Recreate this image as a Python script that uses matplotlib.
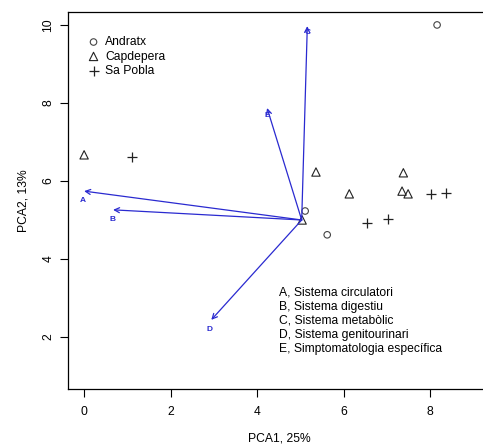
import numpy as np
import matplotlib.pyplot as plt

plt.rcParams['font.family'] = ['Liberation Sans', 'DejaVu Sans']

# punts per municipi (PCA1, PCA2)
andratx_x = [8.16, 5.11, 5.62]
andratx_y = [10.0, 5.23, 4.62]
capdepera_x = [0.0, 5.36, 6.13, 7.38, 7.35, 7.49, 5.04]
capdepera_y = [6.67, 6.23, 5.67, 6.21, 5.74, 5.67, 5.0]
sapobla_x = [1.11, 6.54, 7.03, 8.02, 8.37]
sapobla_y = [6.62, 4.92, 5.03, 5.67, 5.69]

# vectors de les variables
origen = (5.03, 5.0)
lletres = ['A', 'B', 'C', 'D', 'E']
fletxa_x = [0.0, 0.67, 5.16, 2.94, 4.23]
fletxa_y = [5.74, 5.26, 9.97, 2.44, 7.87]
etiqueta_x = [-0.02, 0.65, 5.16, 2.91, 4.23]
etiqueta_y = [5.51, 5.0, 9.8, 2.18, 7.69]

noms = ['A, Sistema circulatori', 'B, Sistema digestiu', 'C, Sistema metabòlic',
        'D, Sistema genitourinari', 'E, Simptomatologia específica']

fig = plt.figure(figsize=(4.83, 4.47), dpi=100)
ax = fig.add_axes([0.141, 0.130, 0.875, 0.843])

ax.scatter(andratx_x, andratx_y, marker='o', s=22, facecolors='none',
           edgecolors='#444444', linewidths=0.8, label='Andratx')
ax.scatter(capdepera_x, capdepera_y, marker='^', s=36, facecolors='none',
           edgecolors='#222222', linewidths=0.8, label='Capdepera')
ax.scatter(sapobla_x, sapobla_y, marker='+', s=50, color='#222222',
           linewidths=0.9, label='Sa Pobla')

for i in range(len(lletres)):
    ax.annotate('', xy=(fletxa_x[i], fletxa_y[i]), xytext=origen,
                arrowprops=dict(arrowstyle='->', color='#2a2ad0', lw=0.9,
                                shrinkA=0, shrinkB=0, mutation_scale=9))
    ax.text(etiqueta_x[i], etiqueta_y[i], lletres[i], color='#2a2ad0',
            fontsize=6, fontweight='bold', ha='center', va='center')

ax.legend(loc='upper left', bbox_to_anchor=(0.043, 0.936), frameon=False,
          fontsize=8.7, handletextpad=0.35, labelspacing=0.2, handlelength=1.2,
          borderaxespad=0, borderpad=0)

ax.text(4.5, 3.3, '\n'.join(noms), fontsize=8.7,
        va='top', ha='left', linespacing=1.25)

ax.set_xlim(-0.37, 9.4)
ax.set_ylim(0.67, 10.33)
ax.set_xticks([0, 2, 4, 6, 8])
ax.set_yticks([2, 4, 6, 8, 10])
ax.tick_params(axis='both', direction='out', length=6, width=0.8,
               labelsize=8.7, pad=6)
ax.tick_params(axis='y', pad=4)
for lab in ax.get_yticklabels():
    lab.set_rotation(90)
    lab.set_va('center')
for sp in ax.spines.values():
    sp.set_linewidth(0.9)

ax.set_xlabel('PCA1, 25%', fontsize=8.7, labelpad=11)
ax.set_ylabel('PCA2, 13%', fontsize=8.7, labelpad=9)

fig.savefig('out.png', dpi=100)
